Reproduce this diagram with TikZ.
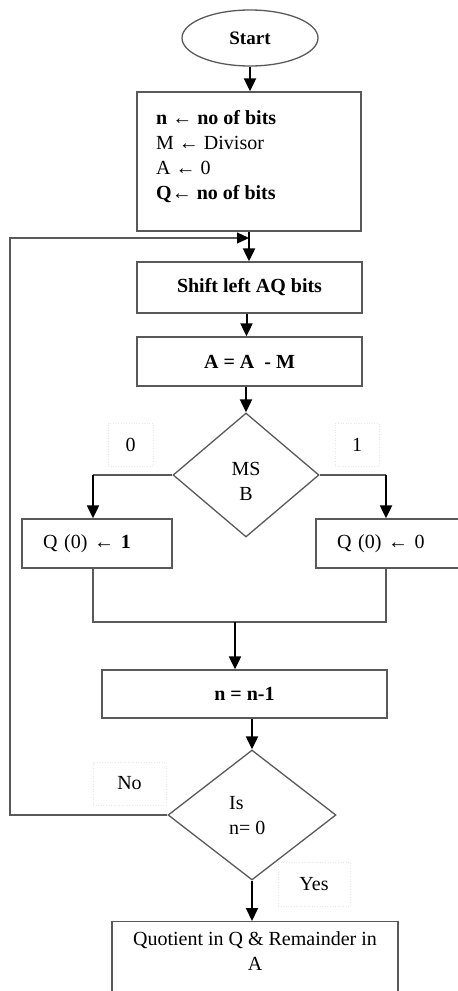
\documentclass[tikz,border=0pt]{standalone}
\usepackage{fontspec}
\setmainfont{Liberation Serif}
\usetikzlibrary{shapes.geometric,arrows.meta}
\definecolor{boxgray}{gray}{0.35}
\begin{document}
\begin{tikzpicture}[x=1pt,y=-1pt,
  every node/.style={font=\fontsize{20}{25}\selectfont},
  box/.style={draw=boxgray, line width=1.3pt, rectangle, inner sep=0pt},
  term/.style={draw=boxgray, line width=1.3pt, ellipse, inner sep=0pt, minimum width=136pt, minimum height=56pt},
  dia/.style={draw=boxgray, line width=1.3pt, diamond, inner sep=0pt},
  lbl/.style={draw=gray!18, dotted, line width=0.6pt, inner sep=0pt},
  gline/.style={draw=boxgray, line width=1.3pt},
  arr/.style={draw=black, line width=2pt, -{Triangle[width=12pt,length=13pt]}},
  garr/.style={draw=boxgray, line width=1.3pt, -{Triangle[width=11pt,length=12pt,color=black]}}
]
\useasboundingbox (0,0) rectangle (458,991);

\node[term] (start) at (250,38) {\fontsize{19}{23}\selectfont\textbf{Start}};

\node[box, minimum width=224pt, minimum height=139pt] (init) at (249,161.5) {};
\node[anchor=west, align=left, inner sep=0pt] (inittext) at (156,157)
  {\fontsize{20}{26.3}\selectfont\textbf{n ← no of bits}\\M ←  Divisor\\A ← 0\\\textbf{Q← no of bits}};

\node[box, minimum width=225pt, minimum height=51pt] (shift) at (249.5,287.5) {\textbf{Shift left AQ bits}};
\node[box, minimum width=225pt, minimum height=49pt] (amm) at (249.5,361.5) {\textbf{A = A \ - M}};

\node[dia, minimum width=146pt, minimum height=124pt] (d1) at (246,475) {};
\node[align=center, inner sep=0pt] (d1text) at (246,481) {MS\\B};

\node[box, minimum width=150pt, minimum height=49pt, text width=108pt, inner xsep=21pt, align=left] (q1) at (97,543.5) {Q (0) ← \textbf{1}};
\node[box, minimum width=150pt, minimum height=49pt, text width=108pt, inner xsep=21pt, align=left] (q0) at (391,543.5) {Q (0) ← 0};

\node[box, minimum width=285pt, minimum height=48pt] (nbox) at (244.5,694) {\textbf{n = n-1}};

\node[dia, minimum width=168pt, minimum height=130pt] (d2) at (252,815) {};
\node[anchor=west, align=left, inner sep=0pt] (d2text) at (229,816) {Is\\n= 0};

\node[box, minimum width=286pt, minimum height=80pt, anchor=north] (fin) at (255,921) {};
\node[anchor=north, align=center, inner sep=0pt] (fintext) at (255,931) {Quotient in Q \& Remainder in\\A};

% branch labels
\node[lbl, minimum width=45pt, minimum height=43pt] (l0) at (130.5,444.5) {0};
\node[lbl, minimum width=44pt, minimum height=43pt] (l1) at (357,444.5) {1};
\node[lbl, minimum width=73pt, minimum height=43pt] (lno) at (129.5,783.5) {No};
\node[lbl, minimum width=72pt, minimum height=44pt] (lyes) at (314,884) {Yes};

% coordinates
\coordinate (bl) at (93,475);
\coordinate (br) at (386,475);
\coordinate (ml) at (93,622);
\coordinate (mr) at (386,622);
\coordinate (mm) at (235,622);
\coordinate (lc) at (10,238);
\coordinate (tip) at (249,238);

% connectors
\draw[arr] (start.south) -- (start.south |- init.north);
\draw[arr] (init.south) -- (init.south |- shift.north);
\draw[arr] ([xshift=-3pt]shift.south) -- ([xshift=-3pt]shift.south |- amm.north);
\draw[arr] (d1.north |- amm.south) -- (d1.north);

\draw[gline] (d1.west) -- (bl);
\draw[arr] (bl) -- (bl |- q1.north);
\draw[gline] (d1.east) -- (br);
\draw[arr] (br) -- (br |- q0.north);

\draw[gline] (ml |- q1.south) -- (ml) -- (mr) -- (mr |- q0.south);
\draw[arr] (mm) -- (mm |- nbox.north);

\draw[arr] (d2.north |- nbox.south) -- (d2.north);
\draw[arr] (d2.south) -- (d2.south |- fin.north);

\draw[garr] (d2.west) -| (lc) -- (tip);
\end{tikzpicture}
\end{document}
